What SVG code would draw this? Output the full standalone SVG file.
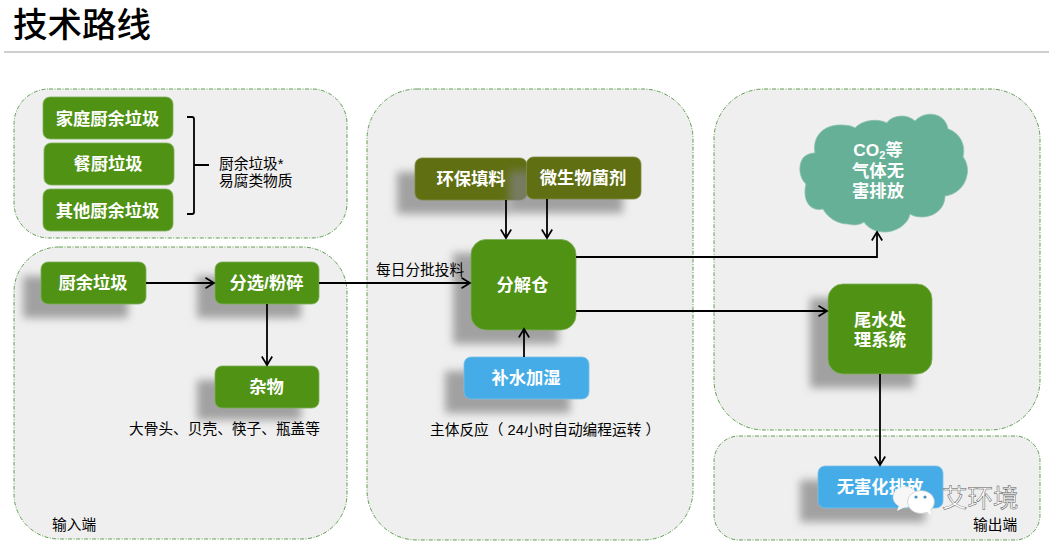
<svg xmlns="http://www.w3.org/2000/svg" width="1053" height="545" viewBox="0 0 1053 545">
<defs>
<filter id="sh" x="-30%" y="-30%" width="160%" height="160%"><feGaussianBlur stdDeviation="4.5"/></filter>
<marker id="arr" markerWidth="12" markerHeight="14" refX="9.5" refY="6" orient="auto" markerUnits="userSpaceOnUse"><path d="M1 0.8 L9.5 6 L1 11.2" fill="none" stroke="#000" stroke-width="1.7"/></marker>
</defs>
<style>
text{font-family:"Liberation Sans","Noto Sans CJK SC",sans-serif}
.panel{fill:#efefef;stroke:#5f9e50;stroke-width:1;stroke-dasharray:4 1.5 1 1.5}
.g{fill:#4f9214;stroke:#7fae5c;stroke-width:.8}
.o{fill:#5f6f12;stroke:#7f8b45;stroke-width:.8}
.b{fill:#45ace8;stroke:#7cbfe6;stroke-width:.8}
.s{fill:#808080;fill-opacity:.7;filter:url(#sh)}
.lb{font-size:17.3px;font-weight:700;fill:#fff;text-anchor:middle}
.t{font-size:14.7px;fill:#000}
.c{fill:none;stroke:#000;stroke-width:1.8}
</style>
<rect width="1053" height="545" fill="#fff"/>
<g id="title"><text x="13" y="37" font-size="34.5" font-weight="500" fill="#000">技术路线</text><rect x="4" y="51" width="1045" height="2" fill="#cfcfcf"/></g>
<g id="panels">
<rect class="panel" x="14" y="89" width="333" height="149" rx="35"/>
<rect class="panel" x="14" y="247" width="333" height="292" rx="45"/>
<rect class="panel" x="367" y="89" width="326" height="451" rx="50"/>
<rect class="panel" x="714" y="89" width="326" height="341" rx="50"/>
<rect class="panel" x="714" y="436" width="326" height="104" rx="25"/>
</g>
<g id="n-jiating"><rect class="g" x="43" y="97" width="130" height="42" rx="7"/><text class="lb" x="107.500" y="125">家庭厨余垃圾</text></g>
<g id="n-canchu"><rect class="g" x="44" y="143" width="130" height="42" rx="7"/><text class="lb" x="108" y="170">餐厨垃圾</text></g>
<g id="n-qita"><rect class="g" x="43" y="189" width="130" height="42" rx="7"/><text class="lb" x="107.500" y="217">其他厨余垃圾</text></g>
<g id="n-brace"><path class="c" d="M187 117 H192 Q194 117 194 119 V212 Q194 214 192 214 H187 M194 165 H209"/><text class="t" x="219" y="169">厨余垃圾*</text><text class="t" x="219" y="186">易腐类物质</text></g>
<g id="n-chuyu"><rect class="s" x="23" y="276" width="105" height="42"/><rect class="g" x="41" y="262" width="105" height="42" rx="7"/><text class="lb" x="93" y="289">厨余垃圾</text></g>
<g id="n-fenxuan"><rect class="s" x="197" y="276" width="104" height="42"/><rect class="g" x="215" y="262" width="104" height="42" rx="7"/><text class="lb" x="266.500" y="289">分选/粉碎</text></g>
<g id="n-zawu"><rect class="s" x="197" y="380" width="104" height="40"/><rect class="g" x="215" y="366" width="104" height="42" rx="7"/><text class="lb" x="266.500" y="393">杂物</text></g>
<g id="n-huanbao"><rect class="s" x="397" y="172" width="112" height="42"/><rect class="o" x="415" y="158" width="112" height="42" rx="7"/><text class="lb" x="471" y="185">环保填料</text></g>
<g id="n-weisw"><rect class="s" x="509" y="171" width="114" height="42"/><rect class="o" x="526.500" y="157" width="114.500" height="42" rx="7"/><text class="lb" x="583" y="184">微生物菌剂</text></g>
<g id="n-fenjie"><rect class="s" x="453" y="253" width="105" height="91"/><rect class="g" x="471" y="239.500" width="105" height="90.500" rx="15"/><text class="lb" x="522.500" y="291">分解仓</text></g>
<g id="n-bushui"><rect class="s" x="445" y="371" width="125" height="42"/><rect class="b" x="464" y="357" width="125" height="42" rx="7"/><text class="lb" x="526" y="384">补水加湿</text></g>
<g id="n-cloud"><path d="M815 153 C812 135 825 125 840 125 C848 125 852 126 855 128 C862 120 878 118 887 123 C890 117 905 112 915 121 C925 110 945 112 948 129 C960 133 966 145 963 157 C968 163 968 172 967 175 C965 187 955 195 945 196 C945 208 935 217 922 217 C917 217 913 216 910 214 C908 225 895 232 885 232 C875 232 868 228 864 222 C858 226 852 225 848 224 C838 224 828 218 823 209 C810 212 802 200 806 184 C799 178 798 165 803 158 C807 154 811 153 815 153 Z" fill="#66b097" stroke="#8cc2ae" stroke-width=".8"/><text class="lb" x="878" y="156">CO<tspan font-size="11" dy="3">2</tspan><tspan dy="-3">等</tspan></text><text class="lb" x="878" y="177">气体无</text><text class="lb" x="878" y="197">害排放</text></g>
<g id="n-weishui"><rect class="s" x="810" y="298" width="104" height="90"/><rect class="g" x="828" y="284" width="104" height="90" rx="15"/><text class="lb" x="880" y="326">尾水处</text><text class="lb" x="880" y="346">理系统</text></g>
<g id="n-wuhai"><rect class="s" x="800" y="480" width="125" height="42"/><rect class="b" x="818" y="466" width="125" height="42" rx="7"/><text class="lb" x="880" y="493">无害化排放</text></g>
<g id="connectors">
<path class="c" marker-end="url(#arr)" d="M146 283 H214"/>
<path class="c" marker-end="url(#arr)" d="M319 283 H470"/>
<path class="c" marker-end="url(#arr)" d="M267 304 V365"/>
<path class="c" marker-end="url(#arr)" d="M506 200 V238"/>
<path class="c" marker-end="url(#arr)" d="M547 199 V238"/>
<path class="c" marker-end="url(#arr)" d="M524 357 V329"/>
<path class="c" marker-end="url(#arr)" d="M576 257 H877 V232"/>
<path class="c" marker-end="url(#arr)" d="M576 311 H827"/>
<path class="c" marker-end="url(#arr)" d="M880 374 V465"/>
</g>
<g id="labels">
<text class="t" x="376" y="275">每日分批投料</text>
<text class="t" x="129" y="434">大骨头、贝壳、筷子、瓶盖等</text>
<text class="t" x="430" y="435">主体反应（ 24小时自动编程运转 ）</text>
<text class="t" x="52" y="530">输入端</text>
<text class="t" x="973" y="530">输出端</text>
</g>
<g id="watermark">
<ellipse cx="905" cy="497" rx="12" ry="10.500" fill="#f7f7f7" stroke="#d8d8d8" stroke-width=".6"/>
<path d="M899 505 L897 511 L905 507Z" fill="#f7f7f7"/>
<ellipse cx="921" cy="502" rx="13.500" ry="11.500" fill="#fff" stroke="#bbb" stroke-width=".6"/>
<path d="M926 511 L931 515 L930 508Z" fill="#fff"/>
<circle cx="916" cy="497" r="1.6" fill="#4a90b8"/><circle cx="925" cy="497" r="1.6" fill="#4a90b8"/>
<text x="942" y="507" font-size="25.500" fill="#fff" stroke="#555" stroke-width=".5">艾环境</text>
</g>
</svg>
